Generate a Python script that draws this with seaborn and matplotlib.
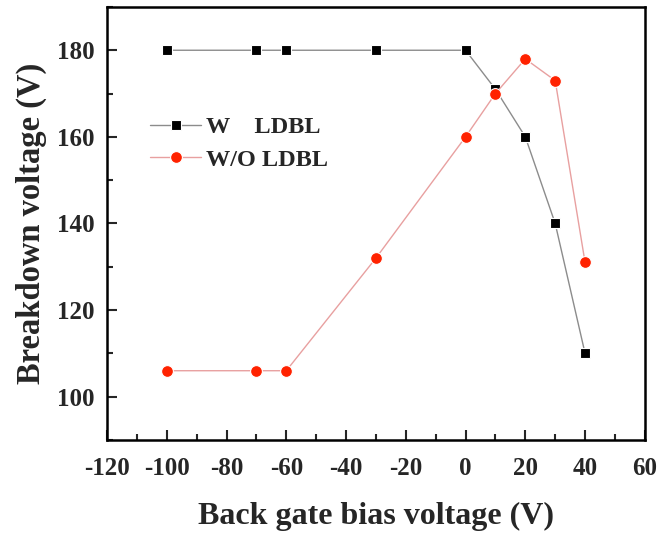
import matplotlib
matplotlib.use("Agg")
import matplotlib.pyplot as plt
import seaborn as sns
import pandas as pd
from matplotlib.ticker import MultipleLocator

bias = [-100, -70, -60, -30, 0, 10, 20, 30, 40]
with_ldbl = [180, 180, 180, 180, 180, 171, 160, 140, 110]
without_ldbl = [106, 106, 106, 132, 160, 170, 178, 173, 131]
labels = ["W    LDBL", "W/O LDBL"]

sns.set_style("ticks")
plt.rcParams['font.family'] = ['Liberation Serif', 'DejaVu Serif']
plt.rcParams['font.weight'] = 'bold'
plt.rcParams['axes.unicode_minus'] = False

df = pd.DataFrame({"bias": bias + bias,
                   "bv": with_ldbl + without_ldbl,
                   "series": [labels[0]] * len(bias) + [labels[1]] * len(bias)})

fig = plt.figure(figsize=(6.71, 5.34), dpi=100)
ax = fig.add_axes([0.1595, 0.176, 0.8015, 0.811])

sns.lineplot(data=df[df.series == labels[0]], x="bias", y="bv", ax=ax,
             color="#8c8c8c", lw=1.0, marker="s", markersize=7,
             markerfacecolor="black", markeredgecolor="white", markeredgewidth=0.8,
             label=labels[0])
sns.lineplot(data=df[df.series == labels[1]], x="bias", y="bv", ax=ax,
             color="#e8a0a0", lw=1.0, marker="o", markersize=8.5,
             markerfacecolor="#ff2200", markeredgecolor="white", markeredgewidth=0.8,
             label=labels[1])

ax.set_xlim(-120, 60)
ax.set_ylim(90, 190)
ax.xaxis.set_major_locator(MultipleLocator(20))
ax.xaxis.set_minor_locator(MultipleLocator(10))
ax.yaxis.set_major_locator(MultipleLocator(20))
ax.yaxis.set_minor_locator(MultipleLocator(10))
ax.set_yticks([100, 120, 140, 160, 180])
ax.tick_params(which='major', direction='in', length=7, width=1.5, labelsize=18)
ax.tick_params(axis='x', which='major', pad=12)
ax.tick_params(axis='y', which='major', pad=9)
ax.tick_params(which='minor', direction='in', length=4, width=1.5)
ax.tick_params(axis='y', which='both', left=True, right=False)
ax.tick_params(axis='x', which='both', top=False)
for lab in ax.get_xticklabels() + ax.get_yticklabels():
    lab.set_fontweight('bold')
for s in ax.spines.values():
    s.set_linewidth(1.8)
    s.set_color("black")

ax.set_xlabel("Back gate bias voltage (V)", fontsize=23, fontweight='bold', labelpad=16)
ax.set_ylabel("Breakdown voltage (V)", fontsize=23.5, fontweight='bold', labelpad=7)

leg = ax.legend(loc='upper left', bbox_to_anchor=(0.062, 0.77), frameon=False,
                prop={'size': 17.5, 'weight': 'bold'}, handlelength=2.1,
                handletextpad=0.2, labelspacing=0.42, borderaxespad=0)

fig.savefig("out.png", dpi=100)
